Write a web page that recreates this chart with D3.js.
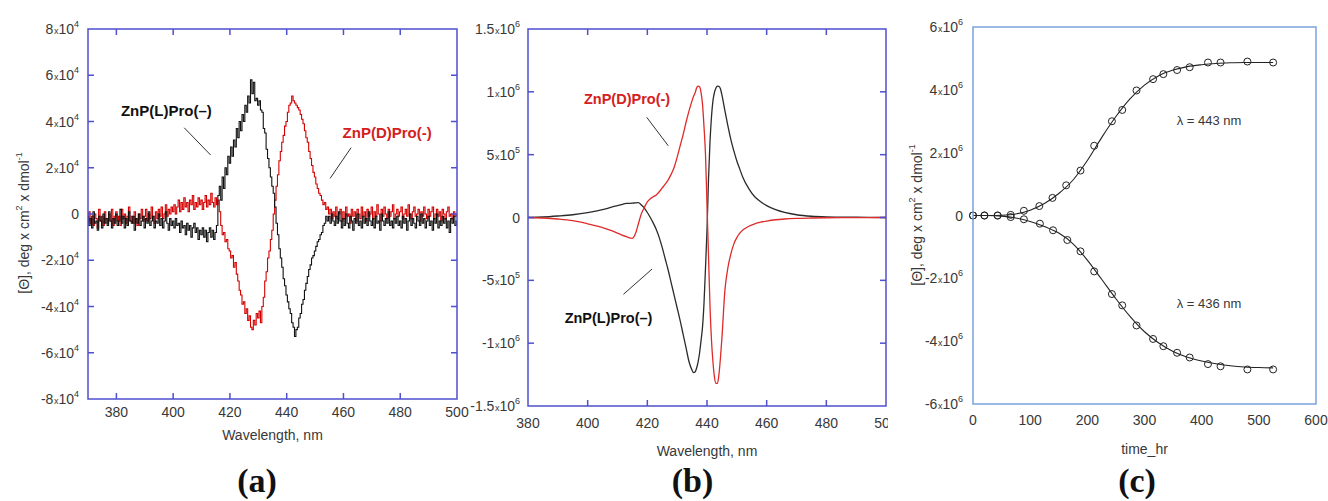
<!DOCTYPE html>
<html>
<head>
<meta charset="utf-8">
<script src="https://cdn.jsdelivr.net/npm/d3@7"></script>
<style>
  body { margin: 0; background: #fff; }
  svg { display: block; }
</style>
</head>
<body>
<svg id="fig" width="1328" height="501"></svg>
<script>
// ---------- (a) CD spectra, noisy scans, 0.5 nm steps from 370 to 500 nm (units of 10^4) ----------
const aWavelengths = d3.range(370, 500.25, 0.5);
const aZnPLPro = [
  -0.1,-0.5,-0.2,-0.6,0.1,-0.4,-0.3,-0.7,-0.1,-0.3,-0.6,0.0,-0.4,-0.2,-0.5,0.1,-0.3,-0.6,-0.2,-0.4,   // 370
  0.0,-0.5,-0.3,0.2,-0.4,-0.1,-0.6,-0.2,-0.5,0.1,-0.3,-0.4,-0.1,-0.7,-0.2,-0.4,0.0,-0.5,-0.3,-0.1,     // 380
  -0.6,-0.2,-0.4,0.1,-0.5,-0.3,-0.1,-0.6,-0.3,-0.4,0.0,-0.5,-0.2,-0.6,-0.3,0.1,-0.4,-0.7,-0.2,-0.5,    // 390
  -0.3,-0.6,-0.2,-0.5,-0.4,-0.8,-0.3,-0.6,-0.5,-0.9,-0.4,-0.7,-0.5,-1.0,-0.6,-0.4,-0.8,-0.6,-1.1,-0.7, // 400
  -0.9,-0.6,-1.0,-0.7,-1.2,-0.8,-0.6,-1.0,-0.7,-1.1,-0.8,-0.5,0.8,1.2,0.6,1.6,1.1,2.0,1.7,2.5,        // 410
  2.2,2.9,2.5,3.2,2.9,3.7,3.3,4.0,3.6,4.3,4.0,4.7,4.4,5.1,4.8,5.8,5.2,5.7,4.9,5.0,                     // 420
  4.7,4.9,4.5,4.4,3.7,3.5,2.8,2.4,2.0,1.6,1.2,0.9,0.3,-0.4,-0.9,-1.5,-1.9,-2.3,-2.8,-3.1,             // 430
  -3.5,-3.8,-4.1,-4.3,-4.7,-4.9,-5.3,-5.0,-4.9,-4.5,-4.3,-3.9,-3.7,-3.3,-3.0,-2.7,-2.4,-2.2,-1.9,-1.8, // 440
  -1.6,-1.4,-1.2,-1.1,-0.9,-0.8,-0.5,-0.4,-0.1,-0.3,-0.1,-0.4,0.0,-0.3,-0.5,-0.1,-0.4,0.1,-0.3,-0.6,  // 450
  -0.2,-0.5,0.0,-0.4,-0.6,-0.1,-0.3,-0.7,-0.2,-0.4,0.0,-0.5,-0.3,-0.6,-0.1,-0.4,-0.2,-0.5,0.1,-0.3,   // 460
  -0.5,-0.2,-0.6,-0.1,-0.4,-0.3,-0.7,0.0,-0.3,-0.5,-0.2,-0.4,0.1,-0.5,-0.3,-0.6,-0.2,-0.4,-0.1,-0.5,  // 470
  -0.3,-0.6,-0.1,-0.4,-0.2,-0.7,-0.3,0.0,-0.5,-0.2,-0.4,-0.6,-0.1,-0.3,-0.5,0.0,-0.4,-0.2,-0.6,-0.3,  // 480
  -0.1,-0.5,-0.3,-0.7,-0.2,-0.4,0.0,-0.6,-0.3,-0.5,-0.1,-0.4,-0.2,-0.6,-0.3,-0.8,-0.2,-0.4,-0.1,-0.5, // 490
  -0.3                                                                                               // 500
];
const aZnPDPro = [
  -0.3,0.1,-0.4,-0.1,-0.5,0.0,-0.2,-0.6,0.2,-0.3,-0.1,-0.5,0.1,-0.2,-0.4,0.0,-0.3,0.2,-0.5,-0.1,      // 370
  0.1,-0.3,-0.1,-0.5,0.2,-0.2,0.0,-0.4,-0.1,0.3,-0.3,-0.1,-0.4,0.1,-0.2,-0.5,0.0,-0.2,0.2,-0.3,       // 380
  -0.1,0.2,-0.3,0.0,-0.2,0.3,-0.1,-0.4,0.1,-0.2,0.2,-0.1,0.3,-0.2,0.0,0.4,-0.1,0.2,0.0,0.3,          // 390
  0.1,0.4,0.0,0.3,0.6,0.1,0.5,0.2,0.7,0.3,0.5,0.1,0.6,0.4,0.8,0.2,0.5,0.3,0.7,0.4,                   // 400
  0.6,0.2,0.5,0.8,0.3,0.6,0.4,0.9,0.5,0.3,0.7,0.4,0.6,0.1,-0.5,-0.9,-0.8,-1.2,-1.1,-1.5,             // 410
  -1.6,-1.9,-1.8,-2.3,-2.1,-2.6,-2.9,-3.3,-3.5,-3.9,-3.8,-4.3,-4.1,-4.6,-4.4,-4.9,-5.0,-4.6,-4.8,-4.3, // 420
  -4.5,-4.2,-4.7,-4.0,-3.6,-2.9,-2.5,-1.9,-1.6,-1.1,-0.7,0.0,0.6,1.2,1.7,2.3,2.7,3.1,3.4,3.8,        // 430
  4.0,4.4,4.7,4.8,5.1,4.9,4.8,4.7,4.6,4.5,4.3,4.1,3.9,3.6,3.3,3.1,2.7,2.4,2.1,1.8,                   // 440
  1.6,1.3,1.1,0.9,0.8,0.6,0.4,0.5,0.2,0.3,0.0,0.2,-0.2,0.1,-0.1,0.3,-0.2,0.0,0.2,-0.3,               // 450
  0.1,-0.2,0.3,-0.1,0.0,-0.4,0.2,-0.1,0.1,-0.3,0.2,0.0,-0.2,0.3,-0.1,0.1,-0.3,0.2,-0.1,0.0,          // 460
  0.3,-0.2,0.1,-0.1,0.4,0.0,-0.3,0.2,-0.1,0.3,0.0,-0.2,0.2,-0.1,0.1,0.4,-0.2,0.0,0.2,-0.1,           // 470
  0.1,0.3,-0.2,0.0,0.2,-0.1,0.4,0.0,-0.2,0.1,0.3,-0.1,0.0,0.2,-0.3,0.1,-0.1,0.3,0.0,-0.2,            // 480
  0.2,-0.1,0.1,0.3,-0.2,0.0,0.2,-0.1,0.1,-0.3,0.2,0.0,-0.2,0.1,0.3,-0.1,0.0,-0.2,0.1,-0.1,           // 490
  0.0                                                                                                // 500
];
const aUnit = 1e4;
const aXTicks = [380, 400, 420, 440, 460, 480, 500];
const aYTicks = [-8, -6, -4, -2, 0, 2, 4, 6, 8];

// ---------- (b) simulated CD spectra (units of 10^6) ----------
const bWavelengths = [380, 385, 390, 395, 400, 405, 408, 411, 413, 415, 416, 417, 418, 419, 420, 421, 422, 423, 424, 425,
  426, 427, 428, 429, 430, 431, 432, 433, 434, 435, 435.5, 436, 436.5, 437, 437.5, 438, 438.5, 439, 439.5, 440,
  440.5, 441, 441.5, 442, 442.5, 443, 443.5, 444, 444.5, 445, 446, 447, 448, 449, 450, 451, 452, 454, 456, 458,
  460, 463, 466, 470, 475, 480, 490, 500];
const bZnPLPro = [0.000, 0.004, 0.012, 0.022, 0.038, 0.062, 0.082, 0.100, 0.112, 0.114, 0.117, 0.118, 0.100, 0.075, 0.040, 0.000, -0.045, -0.095, -0.160, -0.240,
  -0.330, -0.420, -0.520, -0.620, -0.720, -0.820, -0.930, -1.040, -1.150, -1.215, -1.235, -1.230, -1.200, -1.150, -1.080, -0.980, -0.870, -0.680, -0.400, -0.100,
  0.300, 0.600, 0.800, 0.930, 0.995, 1.030, 1.046, 1.044, 1.025, 0.975, 0.850, 0.730, 0.620, 0.530, 0.450, 0.385, 0.320, 0.230, 0.165, 0.125,
  0.095, 0.062, 0.040, 0.022, 0.010, 0.005, 0.002, 0.000];
const bZnPDPro = [0.000, -0.004, -0.012, -0.025, -0.050, -0.080, -0.105, -0.135, -0.153, -0.166, -0.130, -0.050, 0.030, 0.080, 0.125, 0.150, 0.165, 0.180, 0.205, 0.235,
  0.265, 0.300, 0.345, 0.400, 0.480, 0.570, 0.660, 0.760, 0.850, 0.930, 0.965, 0.990, 1.030, 1.046, 1.040, 0.995, 0.900, 0.720, 0.500, 0.100,
  -0.300, -0.700, -0.975, -1.150, -1.270, -1.320, -1.320, -1.250, -1.120, -0.960, -0.580, -0.400, -0.290, -0.210, -0.160, -0.125, -0.100, -0.070, -0.050, -0.037,
  -0.028, -0.018, -0.012, -0.007, -0.004, -0.002, -0.001, 0.000];
const bUnit = 1e6;
const bXTicks = [380, 400, 420, 440, 460, 480, 500];
const bYTicks = [-1.5, -1, -0.5, 0, 0.5, 1, 1.5];

// ---------- (c) growth of the CD signal with time (units of 10^6) ----------
const cTime443 = [0, 20, 43, 66, 89, 116, 139, 163, 188, 212, 243, 261, 286, 315, 333, 357, 379, 411, 433, 480, 525];
const cSignal443 = [0, 0, 0, 0.02, 0.15, 0.30, 0.56, 0.96, 1.43, 2.22, 3.00, 3.36, 3.98, 4.34, 4.50, 4.63, 4.72, 4.87, 4.87, 4.90, 4.87];
const cTime436 = [0, 20, 43, 66, 89, 117, 140, 165, 188, 212, 243, 261, 286, 315, 333, 357, 379, 411, 433, 480, 525];
const cSignal436 = [0, 0, 0, -0.05, -0.12, -0.26, -0.47, -0.78, -1.14, -1.78, -2.50, -2.86, -3.50, -3.93, -4.16, -4.37, -4.52, -4.73, -4.80, -4.90, -4.90];
const cFitTime = [0, 25, 50, 75, 100, 125, 150, 175, 200, 225, 250, 275, 300, 325, 350, 375, 400, 425, 450, 475, 500, 525];
const cFit443 = [0, 0, 0.01, 0.05, 0.17, 0.38, 0.70, 1.13, 1.75, 2.48, 3.15, 3.72, 4.15, 4.45, 4.63, 4.74, 4.80, 4.84, 4.86, 4.87, 4.87, 4.87];
const cFit436 = [0, 0, -0.02, -0.08, -0.19, -0.35, -0.56, -0.90, -1.42, -2.03, -2.65, -3.22, -3.70, -4.06, -4.33, -4.51, -4.63, -4.72, -4.78, -4.82, -4.84, -4.85];
const cUnit = 1e6;
const cXTicks = [0, 100, 200, 300, 400, 500, 600];
const cYTicks = [-6, -4, -2, 0, 2, 4, 6];

// ---------- drawing ----------
const SANS = '"Liberation Sans", Arial, Helvetica, sans-serif';
const TXT = "#383838";
const svg = d3.select("#fig");

function sciParts(v) {
  const e = Math.floor(Math.log10(Math.abs(v)) + 1e-9);
  const m = Math.round(v / Math.pow(10, e) * 10) / 10;
  return [String(m), String(e)];
}

function sciLabel(g, x, y, v, anchor) {
  const t = g.append("text").attr("x", x).attr("y", y).attr("text-anchor", anchor)
    .attr("font-family", SANS).attr("font-size", 14).attr("fill", TXT);
  if (v === 0) { t.text("0"); return; }
  const [m, e] = sciParts(v);
  t.append("tspan").text(m);
  t.append("tspan").attr("font-size", 9).attr("dx", 0.5).text("x");
  t.append("tspan").text("10");
  t.append("tspan").attr("font-size", 9).attr("dy", -7).text(e);
}

function plainLabel(g, x, y, s, anchor, size, opts = {}) {
  return g.append("text").attr("x", x).attr("y", y).attr("text-anchor", anchor)
    .attr("font-family", opts.family || SANS).attr("font-size", size)
    .attr("font-weight", opts.weight || "normal").attr("fill", opts.fill || TXT).text(s);
}

function yTitle(g, x, y) {
  const t = g.append("text").attr("transform", `translate(${x},${y}) rotate(-90)`)
    .attr("text-anchor", "middle").attr("font-family", SANS).attr("font-size", 14).attr("fill", TXT);
  t.append("tspan").text("[\u0398], deg x cm");
  t.append("tspan").attr("font-size", 9).attr("dy", -7).text("2");
  t.append("tspan").attr("dy", 7).text(" x dmol");
  t.append("tspan").attr("font-size", 9).attr("dy", -7).text("-1");
}

function innerTicks(g, x, y, box, xt, yt, color) {
  const tk = g.append("g").attr("stroke", color).attr("stroke-width", 1.5);
  const L = 6;
  xt.forEach(v => {
    const px = x(v);
    if (px <= box.left + 1 || px >= box.right - 1) return;
    tk.append("line").attr("x1", px).attr("x2", px).attr("y1", box.bottom).attr("y2", box.bottom - L);
    tk.append("line").attr("x1", px).attr("x2", px).attr("y1", box.top).attr("y2", box.top + L);
  });
  yt.forEach(v => {
    const py = y(v);
    if (py <= box.top + 1 || py >= box.bottom - 1) return;
    tk.append("line").attr("x1", box.left).attr("x2", box.left + L).attr("y1", py).attr("y2", py);
    tk.append("line").attr("x1", box.right).attr("x2", box.right - L).attr("y1", py).attr("y2", py);
  });
}

function frame(g, box, color) {
  g.append("rect").attr("x", box.left).attr("y", box.top)
    .attr("width", box.right - box.left).attr("height", box.bottom - box.top)
    .attr("fill", "none").attr("stroke", color).attr("stroke-width", 1.5);
}

function leader(g, x, y, p, q) {
  g.append("line").attr("x1", x(p[0])).attr("y1", y(p[1])).attr("x2", x(q[0])).attr("y2", y(q[1]))
    .attr("stroke", "#333").attr("stroke-width", 1);
}

function panelTag(x, s) {
  plainLabel(svg, x, 492, s, "middle", 34, { family: '"Liberation Serif", "Times New Roman", serif', weight: "bold", fill: "#111" });
}

// ---- panel (a) ----
{
  const box = { left: 88, right: 457, top: 29, bottom: 399 };
  const g = svg.append("g");
  const x = d3.scaleLinear([370, 500], [box.left, box.right]);
  const y = d3.scaleLinear([-8, 8], [box.bottom, box.top]);
  const line = d3.line().x((d, i) => x(aWavelengths[i])).y(d => y(d)).curve(d3.curveStep);
  g.append("path").datum(aZnPDPro).attr("d", line).attr("fill", "none").attr("stroke", "#d40000").attr("stroke-width", 1.1);
  g.append("path").datum(aZnPLPro).attr("d", line).attr("fill", "none").attr("stroke", "#111").attr("stroke-width", 1.1);
  frame(g, box, "#4f4fcf");
  innerTicks(g, x, y, box, aXTicks, aYTicks, "#4f4fcf");
  aYTicks.forEach(v => sciLabel(g, 79, y(v) + 5, v * aUnit, "end"));
  aXTicks.forEach(v => plainLabel(g, x(v), 417, String(v), "middle", 14));
  plainLabel(g, (box.left + box.right) / 2, 440, "Wavelength, nm", "middle", 14);
  yTitle(g, 28.5, 223);
  plainLabel(g, x(397.6), y(4.24), "ZnP(L)Pro(\u2013)", "middle", 15, { weight: "bold", fill: "#111" });
  leader(g, x, y, [403.9, 3.73], [413.2, 2.55]);
  plainLabel(g, x(475.4), y(3.29), "ZnP(D)Pro(-)", "middle", 15, { weight: "bold", fill: "#d42020" });
  leader(g, x, y, [462.7, 2.87], [455.3, 1.54]);
  panelTag(257, "(a)");
}

// ---- panel (b) ----
{
  const box = { left: 528, right: 886, top: 29, bottom: 406 };
  svg.append("clipPath").attr("id", "clipB").append("rect").attr("x", 462).attr("y", 0).attr("width", 426).attr("height", 501);
  const g = svg.append("g").attr("clip-path", "url(#clipB)");
  const x = d3.scaleLinear([380, 500], [box.left, box.right]);
  const y = d3.scaleLinear([-1.5, 1.5], [box.bottom, box.top]);
  const line = d3.line().x((d, i) => x(bWavelengths[i])).y(d => y(d)).curve(d3.curveMonotoneX);
  g.append("path").datum(bZnPLPro).attr("d", line).attr("fill", "none").attr("stroke", "#2b2b2b").attr("stroke-width", 1.3);
  g.append("path").datum(bZnPDPro).attr("d", line).attr("fill", "none").attr("stroke", "#e02a2a").attr("stroke-width", 1.3);
  frame(g, box, "#4f4fcf");
  innerTicks(g, x, y, box, bXTicks, bYTicks, "#4f4fcf");
  bYTicks.forEach(v => sciLabel(g, 520, y(v) + 5, v * bUnit, "end"));
  bXTicks.forEach(v => plainLabel(g, x(v), 428, String(v), "middle", 14));
  plainLabel(g, (box.left + box.right) / 2, 456, "Wavelength, nm", "middle", 14);
  plainLabel(g, x(413.2), y(0.903), "ZnP(D)Pro(-)", "middle", 14.5, { weight: "bold", fill: "#d42020" });
  leader(g, x, y, [419.8, 0.797], [427.0, 0.571]);
  plainLabel(g, x(407.0), y(-0.839), "ZnP(L)Pro(\u2013)", "middle", 14.5, { weight: "bold", fill: "#111" });
  leader(g, x, y, [412.0, -0.611], [421.6, -0.41]);
  panelTag(692.5, "(b)");
}

// ---- panel (c) ----
{
  const box = { left: 973, right: 1316, top: 27, bottom: 404 };
  const g = svg.append("g");
  const x = d3.scaleLinear([0, 600], [box.left, box.right]);
  const y = d3.scaleLinear([-6, 6], [box.bottom, box.top]);
  const fit = d3.line().x((d, i) => x(cFitTime[i])).y(d => y(d)).curve(d3.curveMonotoneX);
  g.append("path").datum(cFit443).attr("d", fit).attr("fill", "none").attr("stroke", "#222").attr("stroke-width", 1.1);
  g.append("path").datum(cFit436).attr("d", fit).attr("fill", "none").attr("stroke", "#222").attr("stroke-width", 1.1);
  const dots = (ts, vs) => g.append("g").selectAll("circle").data(vs).join("circle")
    .attr("cx", (d, i) => x(ts[i])).attr("cy", d => y(d)).attr("r", 3.5)
    .attr("fill", "none").attr("stroke", "#222").attr("stroke-width", 1);
  dots(cTime443, cSignal443);
  dots(cTime436, cSignal436);
  frame(g, box, "#79a3dc");
  cYTicks.forEach(v => sciLabel(g, 963, y(v) + 5, v * cUnit, "end"));
  cXTicks.forEach(v => plainLabel(g, x(v), 425, String(v), "middle", 14));
  plainLabel(g, (box.left + box.right) / 2, 454, "time_hr", "middle", 14);
  yTitle(g, 921.5, 215);
  plainLabel(g, x(356.3), y(2.88), "\u03bb = 443 nm", "start", 13);
  plainLabel(g, x(356.3), y(-2.96), "\u03bb = 436 nm", "start", 13);
  panelTag(1137, "(c)");
}
</script>
</body>
</html>
